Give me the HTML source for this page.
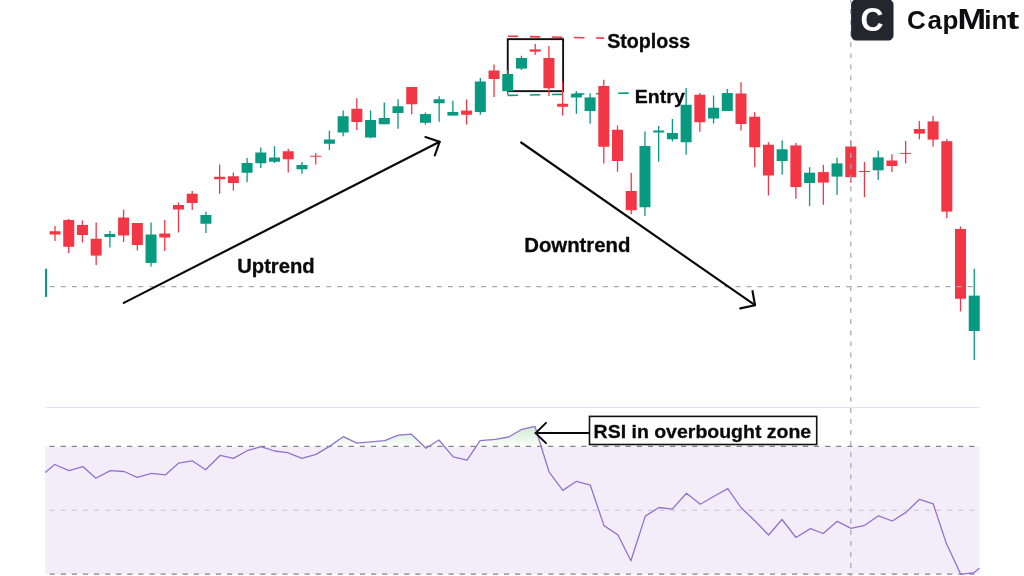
<!DOCTYPE html>
<html lang="en"><head><meta charset="utf-8"><title>CapMint – RSI overbought shooting star</title>
<style>html,body{margin:0;padding:0;background:#fff;}body{width:1024px;height:576px;overflow:hidden;font-family:"Liberation Sans",sans-serif;}svg{display:block;}text{font-family:"Liberation Sans",sans-serif;}</style></head><body>
<svg width="1024" height="576" viewBox="0 0 1024 576">
<defs><linearGradient id="ob" x1="0" y1="416" x2="0" y2="446.7" gradientUnits="userSpaceOnUse"><stop offset="0" stop-color="#4caf50" stop-opacity="0.38"/><stop offset="1" stop-color="#4caf50" stop-opacity="0.02"/></linearGradient>
<clipPath id="above"><rect x="0" y="400" width="1024" height="46.7"/></clipPath></defs>
<rect width="1024" height="576" fill="#ffffff"/>
<rect x="45.2" y="446.7" width="934.3" height="127.30000000000001" fill="#f3edf9"/>
<line x1="45.2" y1="407.4" x2="979.5" y2="407.4" stroke="#dfe2ee" stroke-width="1"/>
<polygon clip-path="url(#above)" points="45.2,446.7 45.2,472.4 54.7,464.5 69,470.6 82.8,466.6 95.9,478.2 110.3,470.6 124,471.5 137.2,477.3 151.5,473.3 165.3,474.9 178.4,463.2 192.2,460.8 205.6,469.7 220.3,455.3 233.4,458.4 247.2,450.7 260.9,446.7 274.6,451 287.6,452.6 302,458.4 316,454.4 329.5,446.4 343.2,436.7 357,443.1 370.7,441.9 384.8,440.6 398.2,435.1 411.4,434.2 426,448.3 438.9,440 453.2,456.8 467,460.2 480.1,440.6 495.4,439.4 508.5,437 522,429.3 534.9,426.3 549,471.8 562.8,490.4 576.5,481.3 590.3,485.2 604,525.6 617.8,534.7 630.9,560.7 645.3,516.1 659,507.5 672.2,509.1 686.5,493.2 700.3,504.2 714,496.2 727.8,488.6 740.9,507.5 755.3,521.3 768.6,535 782,519.5 796,537.5 810.4,528.6 823.2,533.5 837.3,521.3 851,528.3 864.8,525.3 878.5,515.8 892.3,521 906,512.4 919.5,499.3 933.2,503.9 946.4,543.6 960.7,574.3 974.2,572.6 979.5,568 979.5,446.7" fill="url(#ob)"/>
<line x1="49.5" y1="446.4" x2="979.5" y2="446.4" stroke="#84858b" stroke-width="1.25" stroke-dasharray="5.2 5.88"/>
<line x1="49.7" y1="510.3" x2="979.5" y2="510.3" stroke="#c4c4cc" stroke-width="1.1" stroke-dasharray="5 6.08"/>
<line x1="49.7" y1="574.1" x2="979.5" y2="574.1" stroke="#a3a3ab" stroke-width="1.8" stroke-dasharray="5.2 5.88"/>
<polyline points="45.2,472.4 54.7,464.5 69,470.6 82.8,466.6 95.9,478.2 110.3,470.6 124,471.5 137.2,477.3 151.5,473.3 165.3,474.9 178.4,463.2 192.2,460.8 205.6,469.7 220.3,455.3 233.4,458.4 247.2,450.7 260.9,446.7 274.6,451 287.6,452.6 302,458.4 316,454.4 329.5,446.4 343.2,436.7 357,443.1 370.7,441.9 384.8,440.6 398.2,435.1 411.4,434.2 426,448.3 438.9,440 453.2,456.8 467,460.2 480.1,440.6 495.4,439.4 508.5,437 522,429.3 534.9,426.3 549,471.8 562.8,490.4 576.5,481.3 590.3,485.2 604,525.6 617.8,534.7 630.9,560.7 645.3,516.1 659,507.5 672.2,509.1 686.5,493.2 700.3,504.2 714,496.2 727.8,488.6 740.9,507.5 755.3,521.3 768.6,535 782,519.5 796,537.5 810.4,528.6 823.2,533.5 837.3,521.3 851,528.3 864.8,525.3 878.5,515.8 892.3,521 906,512.4 919.5,499.3 933.2,503.9 946.4,543.6 960.7,574.3 974.2,572.6 979.5,568" fill="none" stroke="#9272cf" stroke-width="1.3" stroke-linejoin="round"/>
<rect x="45" y="268.75" width="2.1" height="28.2" fill="#089981"/>
<line x1="507.75" y1="36.2" x2="604" y2="38.1" stroke="#f23645" stroke-width="1.6" stroke-dasharray="10.4 11.7"/>
<line x1="507.75" y1="95.4" x2="629" y2="93.1" stroke="#089981" stroke-width="1.6" stroke-dasharray="10.4 11.7"/>
<rect x="507.75" y="39.15" width="55.35" height="52" fill="none" stroke="#111" stroke-width="1.9"/>
<rect x="54.35" y="226" width="1.3" height="15.00" fill="#f23645"/><rect x="49.50" y="231.25" width="11.00" height="3.25" fill="#f23645"/>
<rect x="68.07" y="219" width="1.3" height="34.00" fill="#f23645"/><rect x="63.22" y="220" width="11.00" height="26.75" fill="#f23645"/>
<rect x="81.79" y="220.5" width="1.3" height="22.00" fill="#f23645"/><rect x="76.94" y="225" width="11.00" height="10.00" fill="#f23645"/>
<rect x="95.51" y="222.5" width="1.3" height="42.50" fill="#f23645"/><rect x="90.66" y="238.75" width="11.00" height="16.85" fill="#f23645"/>
<rect x="109.23" y="231" width="1.3" height="16.50" fill="#089981"/><rect x="104.38" y="234" width="11.00" height="3.00" fill="#089981"/>
<rect x="122.95" y="209.5" width="1.3" height="32.50" fill="#f23645"/><rect x="118.10" y="217.5" width="11.00" height="18.00" fill="#f23645"/>
<rect x="136.67" y="223" width="1.3" height="27.50" fill="#f23645"/><rect x="131.82" y="223" width="11.00" height="22.00" fill="#f23645"/>
<rect x="150.39" y="222.5" width="1.3" height="44.10" fill="#089981"/><rect x="145.54" y="234.5" width="11.00" height="28.40" fill="#089981"/>
<rect x="164.11" y="220" width="1.3" height="31.00" fill="#f23645"/><rect x="159.26" y="233.5" width="11.00" height="4.00" fill="#f23645"/>
<rect x="177.83" y="202.5" width="1.3" height="30.00" fill="#f23645"/><rect x="172.98" y="205" width="11.00" height="4.50" fill="#f23645"/>
<rect x="191.55" y="191" width="1.3" height="19.00" fill="#f23645"/><rect x="186.70" y="193.75" width="11.00" height="9.25" fill="#f23645"/>
<rect x="205.27" y="211.75" width="1.3" height="21.25" fill="#089981"/><rect x="200.42" y="215" width="11.00" height="8.75" fill="#089981"/>
<rect x="218.99" y="164.5" width="1.3" height="29.25" fill="#f23645"/><rect x="214.14" y="176.75" width="11.00" height="2.50" fill="#f23645"/>
<rect x="232.71" y="172.5" width="1.3" height="18.00" fill="#f23645"/><rect x="227.86" y="176.25" width="11.00" height="6.75" fill="#f23645"/>
<rect x="246.43" y="158" width="1.3" height="24.25" fill="#089981"/><rect x="241.58" y="163" width="11.00" height="9.75" fill="#089981"/>
<rect x="260.15" y="147.5" width="1.3" height="20.50" fill="#089981"/><rect x="255.30" y="152.5" width="11.00" height="10.75" fill="#089981"/>
<rect x="273.87" y="146.25" width="1.3" height="16.75" fill="#089981"/><rect x="269.02" y="157.5" width="11.00" height="4.25" fill="#089981"/>
<rect x="287.59" y="148.75" width="1.3" height="23.75" fill="#f23645"/><rect x="282.74" y="151.25" width="11.00" height="8.00" fill="#f23645"/>
<rect x="301.31" y="162" width="1.3" height="11.75" fill="#089981"/><rect x="296.46" y="165" width="11.00" height="4.25" fill="#089981"/>
<rect x="315.03" y="153.25" width="1.3" height="11.25" fill="#f23645"/><rect x="310.18" y="155.75" width="11.00" height="1.00" fill="#f23645"/>
<rect x="328.75" y="130.75" width="1.3" height="19.25" fill="#089981"/><rect x="323.90" y="139.5" width="11.00" height="4.25" fill="#089981"/>
<rect x="342.47" y="110.5" width="1.3" height="25.75" fill="#089981"/><rect x="337.62" y="116.25" width="11.00" height="16.25" fill="#089981"/>
<rect x="356.19" y="98.25" width="1.3" height="31.75" fill="#f23645"/><rect x="351.34" y="108.75" width="11.00" height="13.25" fill="#f23645"/>
<rect x="369.91" y="110.5" width="1.3" height="27.75" fill="#089981"/><rect x="365.06" y="120" width="11.00" height="17.50" fill="#089981"/>
<rect x="383.63" y="102.5" width="1.3" height="21.75" fill="#089981"/><rect x="378.78" y="118" width="11.00" height="6.25" fill="#089981"/>
<rect x="397.35" y="99.25" width="1.3" height="29.50" fill="#089981"/><rect x="392.50" y="106.25" width="11.00" height="6.75" fill="#089981"/>
<rect x="411.07" y="87" width="1.3" height="27.25" fill="#f23645"/><rect x="406.22" y="87" width="11.00" height="17.25" fill="#f23645"/>
<rect x="424.79" y="112.5" width="1.3" height="12.10" fill="#089981"/><rect x="419.94" y="114.1" width="11.00" height="8.70" fill="#089981"/>
<rect x="438.51" y="96.25" width="1.3" height="25.50" fill="#089981"/><rect x="433.66" y="99.25" width="11.00" height="4.00" fill="#089981"/>
<rect x="452.23" y="100.75" width="1.3" height="14.85" fill="#089981"/><rect x="447.38" y="112" width="11.00" height="3.60" fill="#089981"/>
<rect x="465.95" y="99.5" width="1.3" height="25.00" fill="#f23645"/><rect x="461.10" y="110.6" width="11.00" height="4.15" fill="#f23645"/>
<rect x="479.67" y="78" width="1.3" height="36.75" fill="#089981"/><rect x="474.82" y="81.5" width="11.00" height="30.50" fill="#089981"/>
<rect x="493.39" y="64.5" width="1.3" height="32.50" fill="#f23645"/><rect x="488.54" y="70.5" width="11.00" height="8.50" fill="#f23645"/>
<rect x="507.11" y="70" width="1.3" height="25.00" fill="#089981"/><rect x="502.26" y="74" width="11.00" height="17.20" fill="#089981"/>
<rect x="520.83" y="55.75" width="1.3" height="14.15" fill="#089981"/><rect x="515.98" y="58" width="11.00" height="10.60" fill="#089981"/>
<rect x="534.55" y="44" width="1.3" height="10.90" fill="#f23645"/><rect x="529.70" y="49.4" width="11.00" height="2.30" fill="#f23645"/>
<rect x="548.27" y="46.1" width="1.3" height="50.00" fill="#f23645"/><rect x="543.42" y="58" width="11.00" height="30.25" fill="#f23645"/>
<rect x="561.99" y="81.6" width="1.3" height="33.90" fill="#f23645"/><rect x="557.14" y="103.75" width="11.00" height="3.00" fill="#f23645"/>
<rect x="575.71" y="91.25" width="1.3" height="22.50" fill="#089981"/><rect x="570.86" y="93.75" width="11.00" height="3.75" fill="#089981"/>
<rect x="589.43" y="93.25" width="1.3" height="30.35" fill="#089981"/><rect x="584.58" y="97.4" width="11.00" height="13.70" fill="#089981"/>
<rect x="603.15" y="79.75" width="1.3" height="83.75" fill="#f23645"/><rect x="598.30" y="86" width="11.00" height="60.75" fill="#f23645"/>
<rect x="616.87" y="125.5" width="1.3" height="46.25" fill="#f23645"/><rect x="612.02" y="129.75" width="11.00" height="31.25" fill="#f23645"/>
<rect x="630.59" y="173" width="1.3" height="41.25" fill="#f23645"/><rect x="625.74" y="191" width="11.00" height="19.25" fill="#f23645"/>
<rect x="644.31" y="131.5" width="1.3" height="84.50" fill="#089981"/><rect x="639.46" y="146" width="11.00" height="61.25" fill="#089981"/>
<rect x="658.03" y="126" width="1.3" height="35.75" fill="#089981"/><rect x="653.18" y="130.5" width="11.00" height="2.00" fill="#089981"/>
<rect x="671.75" y="119" width="1.3" height="22.50" fill="#089981"/><rect x="666.90" y="133" width="11.00" height="6.25" fill="#089981"/>
<rect x="685.47" y="88" width="1.3" height="66.75" fill="#089981"/><rect x="680.62" y="104.75" width="11.00" height="37.50" fill="#089981"/>
<rect x="699.19" y="93" width="1.3" height="38.75" fill="#f23645"/><rect x="694.34" y="94.75" width="11.00" height="27.50" fill="#f23645"/>
<rect x="712.91" y="95.5" width="1.3" height="28.00" fill="#089981"/><rect x="708.06" y="107.75" width="11.00" height="10.75" fill="#089981"/>
<rect x="726.63" y="89" width="1.3" height="22.00" fill="#089981"/><rect x="721.78" y="93" width="11.00" height="18.00" fill="#089981"/>
<rect x="740.35" y="82.25" width="1.3" height="48.25" fill="#f23645"/><rect x="735.50" y="93.5" width="11.00" height="30.50" fill="#f23645"/>
<rect x="754.07" y="112.25" width="1.3" height="55.00" fill="#f23645"/><rect x="749.22" y="116.75" width="11.00" height="30.50" fill="#f23645"/>
<rect x="767.79" y="142.25" width="1.3" height="53.25" fill="#f23645"/><rect x="762.94" y="144.75" width="11.00" height="30.75" fill="#f23645"/>
<rect x="781.51" y="140.5" width="1.3" height="34.25" fill="#089981"/><rect x="776.66" y="149.25" width="11.00" height="11.75" fill="#089981"/>
<rect x="795.23" y="143" width="1.3" height="55.70" fill="#f23645"/><rect x="790.38" y="145.4" width="11.00" height="41.60" fill="#f23645"/>
<rect x="808.95" y="167.2" width="1.3" height="38.80" fill="#089981"/><rect x="804.10" y="172.7" width="11.00" height="10.30" fill="#089981"/>
<rect x="822.67" y="164.8" width="1.3" height="40.00" fill="#f23645"/><rect x="817.82" y="172.1" width="11.00" height="10.50" fill="#f23645"/>
<rect x="836.39" y="157.7" width="1.3" height="37.30" fill="#089981"/><rect x="831.54" y="163.4" width="11.00" height="13.20" fill="#089981"/>
<rect x="850.11" y="140.5" width="1.3" height="42.20" fill="#f23645"/><rect x="845.26" y="146.5" width="11.00" height="30.70" fill="#f23645"/>
<rect x="863.83" y="162" width="1.3" height="35.20" fill="#f23645"/><rect x="858.98" y="171" width="11.00" height="1.00" fill="#f23645"/>
<rect x="877.55" y="150.8" width="1.3" height="29.00" fill="#089981"/><rect x="872.70" y="157.4" width="11.00" height="12.90" fill="#089981"/>
<rect x="891.27" y="154.3" width="1.3" height="17.70" fill="#f23645"/><rect x="886.42" y="160.5" width="11.00" height="5.50" fill="#f23645"/>
<rect x="904.99" y="141" width="1.3" height="22.40" fill="#f23645"/><rect x="900.14" y="152.9" width="11.00" height="1.00" fill="#f23645"/>
<rect x="918.71" y="121" width="1.3" height="18.30" fill="#f23645"/><rect x="913.86" y="129" width="11.00" height="4.60" fill="#f23645"/>
<rect x="932.43" y="116.2" width="1.3" height="30.50" fill="#f23645"/><rect x="927.58" y="121.4" width="11.00" height="18.20" fill="#f23645"/>
<rect x="946.15" y="139.3" width="1.3" height="78.90" fill="#f23645"/><rect x="941.30" y="141.2" width="11.00" height="70.40" fill="#f23645"/>
<rect x="959.87" y="226.5" width="1.3" height="85.00" fill="#f23645"/><rect x="955.02" y="229" width="11.00" height="69.75" fill="#f23645"/>
<rect x="973.59" y="268.75" width="1.3" height="91.25" fill="#089981"/><rect x="968.74" y="295.6" width="11.00" height="35.40" fill="#089981"/>
<line x1="49.75" y1="286.5" x2="974" y2="286.5" stroke="#a6a8b3" stroke-width="1.25" stroke-dasharray="5 6.06"/>
<line x1="850.8" y1="-2.0" x2="850.8" y2="576" stroke="#a6a8b3" stroke-width="1.25" stroke-dasharray="4.8 6.28"/>
<g fill="none" stroke="#0a0a0a" stroke-width="2.15" stroke-linecap="round" stroke-linejoin="round">
<path d="M123.8 302.9 L439.6 141.8"/><path d="M425.4 137 L439.6 141.8 L434.8 155.5"/>
<path d="M521.2 142.5 L755 305.2"/><path d="M752.5 291 L755 305.2 L740.3 308.4"/>
</g>
<g font-weight="700" fill="#0a0a0a" stroke="#0a0a0a" stroke-width="0.3" stroke-linejoin="round">
<text x="237.2" y="273.4" font-size="19.3" textLength="77.5" lengthAdjust="spacingAndGlyphs">Uptrend</text>
<text x="524.2" y="251.8" font-size="19.3" textLength="106.3" lengthAdjust="spacingAndGlyphs">Downtrend</text>
<text x="607.2" y="47.9" font-size="19.4" textLength="83" lengthAdjust="spacingAndGlyphs">Stoploss</text>
<text x="634.8" y="102.7" font-size="19" textLength="50" lengthAdjust="spacingAndGlyphs">Entry</text>
</g>
<g fill="none" stroke="#0a0a0a" stroke-width="2" stroke-linecap="round" stroke-linejoin="round"><path d="M535.6 433.1 L589.7 433.1"/><path d="M546 422.9 L535.6 433.1 L546 443.1"/></g>
<rect x="589.5" y="416.4" width="227.2" height="28.1" fill="#fff" stroke="#111" stroke-width="1.6"/>
<text x="593.6" y="438.2" font-size="19.2" font-weight="700" fill="#0a0a0a" stroke="#0a0a0a" stroke-width="0.3" stroke-linejoin="round" textLength="217.6" lengthAdjust="spacingAndGlyphs">RSI in overbought zone</text>
<rect x="851.1" y="-0.6" width="42.4" height="41" rx="5.2" ry="5.2" fill="#23262d"/>
<text x="860.4" y="31.3" font-size="32.5" font-weight="700" fill="#ffffff" textLength="23" lengthAdjust="spacingAndGlyphs">C</text>
<text y="28.6" font-size="26" font-weight="700" fill="#0e0e10"><tspan x="907 927.5 942.6">Cap</tspan><tspan x="957.4" font-size="29" textLength="28.6" lengthAdjust="spacingAndGlyphs">M</tspan><tspan x="984.2 991.5">in</tspan><tspan x="1006.8" textLength="12.5" lengthAdjust="spacingAndGlyphs">t</tspan></text>
</svg></body></html>
